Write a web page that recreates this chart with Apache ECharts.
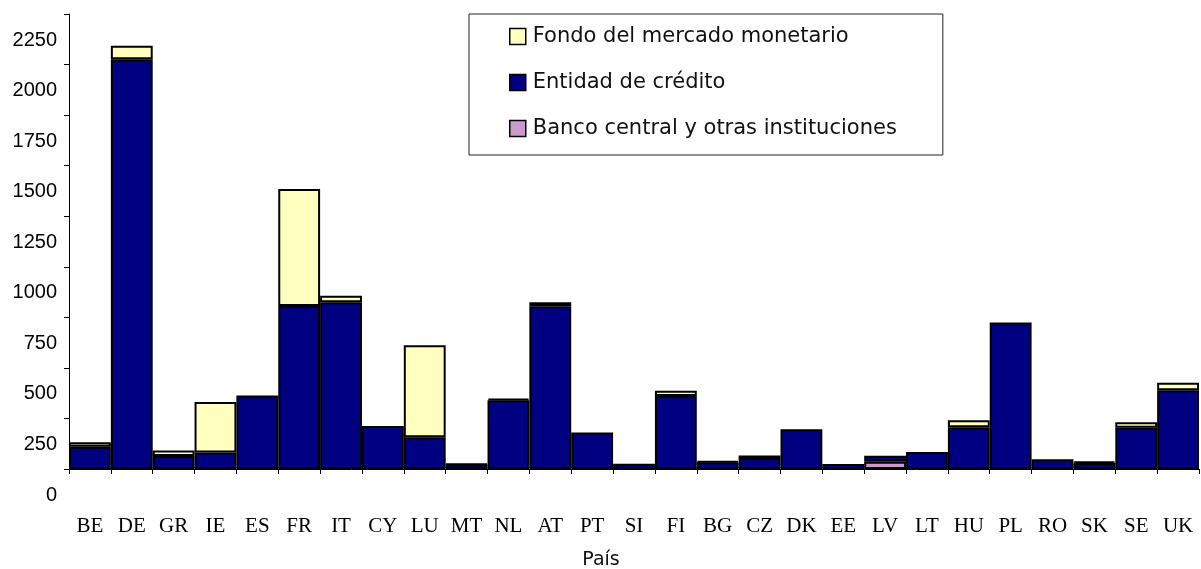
<!DOCTYPE html>
<html>
<head>
<meta charset="utf-8">
<script src="https://cdn.jsdelivr.net/npm/echarts@6/dist/echarts.min.js"></script>
<style>
  html, body { margin: 0; padding: 0; background: #fff; }
  #chart { width: 1201px; height: 569px; }
</style>
</head>
<body>
<div id="chart"></div>
<script>
// paises
var paises = ["BE", "DE", "GR", "IE", "ES", "FR", "IT", "CY", "LU", "MT", "NL", "AT", "PT", "SI",
    "FI", "BG", "CZ", "DK", "EE", "LV", "LT", "HU", "PL", "RO", "SK", "SE", "UK"];

// series (null = sin dato)
var bancoCentral = [null, null, null, null, null, null, null, null, null, null, null, null, null, null,
    null, null, null, null, null, 36, null, null, null, null, null, null, null];
var entidadCredito = [110, 2026, 64, 82, 363, 806, 824, 213, 157, 22, 340, 805, 180, 26,
    361, 33, 55, 196, 25, 30, 84, 206, 724, 48, 30, 204, 389];
var fondoMonetario = [22, 67, 28, 249, null, 579, 33, null, 455, 4, 8, 19, null, null,
    26, 6, 12, null, null, null, null, 35, null, null, 7, 27, 38];

var yMin = 0, yMax = 2250, yPaso = 250;

var chart = echarts.init(document.getElementById("chart"));

var borde = { borderColor: "#000", borderWidth: 2 };

var option = {
    animation: false,
    backgroundColor: "#fff",
    grid: { left: 69, right: 2, top: 14, bottom: 100, containLabel: false, outerBoundsMode: "none" },
    legend: {
        orient: "vertical",
        left: 469,
        top: 14,
        padding: [12, 46, 16, 40],
        itemGap: 25,
        itemWidth: 16,
        itemHeight: 16,
        backgroundColor: "#fff",
        borderColor: "#222",
        borderWidth: 1,
        borderRadius: 0,
        icon: "rect",
        itemStyle: { borderColor: "#000", borderWidth: 1.5 },
        textStyle: { fontFamily: "DejaVu Sans", fontSize: 21, color: "#111", padding: [0, 0, 0, 2] },
        data: ["Fondo del mercado monetario", "Entidad de crédito", "Banco central y otras instituciones"]
    },
    xAxis: {
        type: "category",
        data: paises,
        name: "País",
        nameLocation: "middle",
        nameGap: 82,
        nameMoveOverlap: false,
        nameTextStyle: { fontFamily: "DejaVu Sans", fontSize: 19, color: "#111", padding: [0, 66, 0, 0] },
        axisLine: { lineStyle: { color: "#000", width: 1 } },
        axisTick: { show: true, length: 5, lineStyle: { color: "#000" } },
        axisLabel: { fontFamily: "Liberation Serif", fontSize: 21, color: "#000", margin: 47, interval: 0 },
        splitLine: { show: false }
    },
    yAxis: {
        type: "value",
        min: yMin,
        max: yMax,
        interval: yPaso,
        axisLine: { show: true, lineStyle: { color: "#000", width: 1 } },
        axisTick: { show: true, length: 5, lineStyle: { color: "#000" } },
        axisLabel: {
            fontFamily: "Liberation Sans",
            fontSize: 20,
            color: "#000",
            margin: 12,
            verticalAlign: "top",
            lineHeight: 20,
            padding: [16, 0, 0, 0],
            formatter: function (v) { return String(v); }
        },
        splitLine: { show: false }
    },
    series: [
        {
            name: "Banco central y otras instituciones",
            type: "bar",
            stack: "total",
            barCategoryGap: "0%",
            itemStyle: Object.assign({ color: "#CC99CC" }, borde),
            data: bancoCentral
        },
        {
            name: "Entidad de crédito",
            type: "bar",
            stack: "total",
            barCategoryGap: "0%",
            itemStyle: Object.assign({ color: "#000080" }, borde),
            data: entidadCredito
        },
        {
            name: "Fondo del mercado monetario",
            type: "bar",
            stack: "total",
            barCategoryGap: "0%",
            itemStyle: Object.assign({ color: "#FFFFC0" }, borde),
            data: fondoMonetario
        }
    ]
};

chart.setOption(option);
</script>
</body>
</html>
